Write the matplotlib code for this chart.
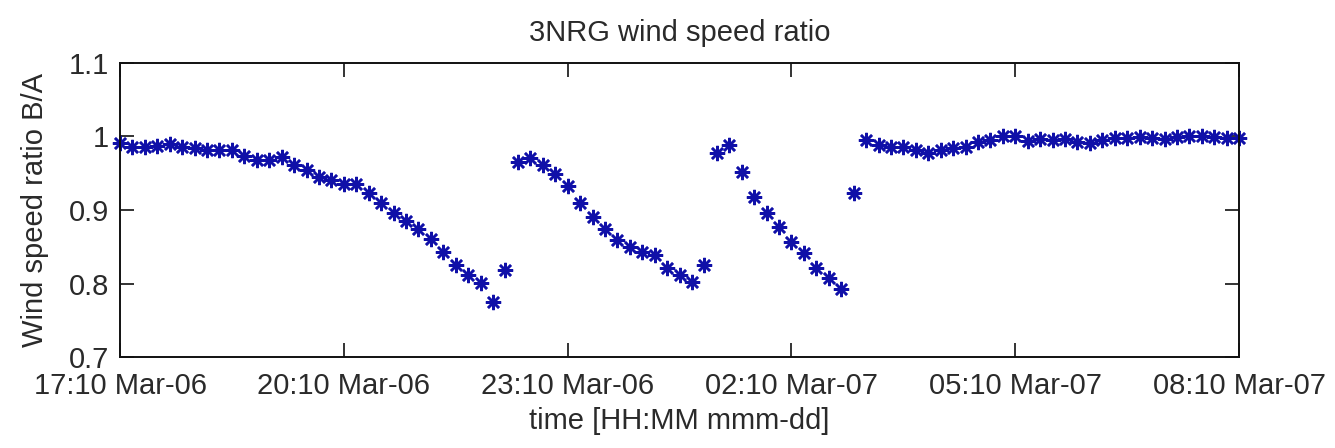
import matplotlib
matplotlib.use("Agg")
import matplotlib.pyplot as plt
import matplotlib.dates as mdates
import pandas as pd

plt.rcParams['font.family'] = ['Liberation Sans', 'DejaVu Sans']

# Time base: 10-minute samples from 17:10 Mar-06 to 08:10 Mar-07
start_time = "2007-03-06 17:10"
sample_step = "10min"

ratio_values = [
    0.991, 0.986, 0.986, 0.987, 0.990, 0.986, 0.984, 0.981, 0.981, 0.981,
    0.973, 0.968, 0.968, 0.972, 0.961, 0.954, 0.945, 0.941, 0.936, 0.935,
    0.923, 0.909, 0.896, 0.885, 0.874, 0.861, 0.843, 0.825, 0.812, 0.801,
    0.775, 0.818, 0.965, 0.971, 0.961, 0.949, 0.932, 0.909, 0.890, 0.874,
    0.859, 0.850, 0.843, 0.839, 0.821, 0.812, 0.802, 0.825, 0.978, 0.988,
    0.952, 0.918, 0.896, 0.877, 0.857, 0.841, 0.821, 0.807, 0.793, 0.923,
    0.995, 0.988, 0.986, 0.986, 0.982, 0.977, 0.982, 0.984, 0.986, 0.993,
    0.995, 1.000, 1.000, 0.994, 0.996, 0.995, 0.996, 0.993, 0.991, 0.995,
    0.998, 0.998, 0.999, 0.998, 0.996, 0.999, 1.000, 1.001, 0.999, 0.998,
    0.998,
]
times = pd.date_range(start=start_time, periods=len(ratio_values), freq=sample_step)

tick_times = pd.date_range(start=start_time, periods=6, freq="3h")
y_ticks = [0.7, 0.8, 0.9, 1.0, 1.1]
y_tick_labels = ["0.7", "0.8", "0.9", "1", "1.1"]

fig = plt.figure(figsize=(13.35, 4.48), dpi=100)
ax = fig.add_axes([0.0899, 0.2031, 0.8383, 0.6563])

ax.plot(times, ratio_values, linestyle='none', marker=(8, 2, 0),
        markersize=11, markeredgewidth=1.8, color='#1010a8', clip_on=False)

ax.set_xlim(times[0], times[-1])
ax.set_ylim(0.7, 1.1)
ax.set_xticks(tick_times)
ax.xaxis.set_major_formatter(mdates.DateFormatter('%H:%M %b-%d'))
ax.set_yticks(y_ticks)
ax.set_yticklabels(y_tick_labels)

txt_color = '#2a2a2a'
ax.tick_params(direction='in', length=10, width=1.2, top=True, right=True,
               labelsize=21, colors='#111111', labelcolor=txt_color)
ax.tick_params(axis='x', pad=11)
ax.tick_params(axis='y', pad=8)
for s in ax.spines.values():
    s.set_linewidth(1.4)
    s.set_color('#111111')

ax.set_title("3NRG wind speed ratio", fontsize=21, pad=16, color=txt_color)
ax.set_xlabel("time [HH:MM mmm-dd]", fontsize=21, labelpad=5, color=txt_color)
ax.set_ylabel("Wind speed ratio B/A", fontsize=21, labelpad=14, color=txt_color)

fig.savefig("out.png", dpi=100)
